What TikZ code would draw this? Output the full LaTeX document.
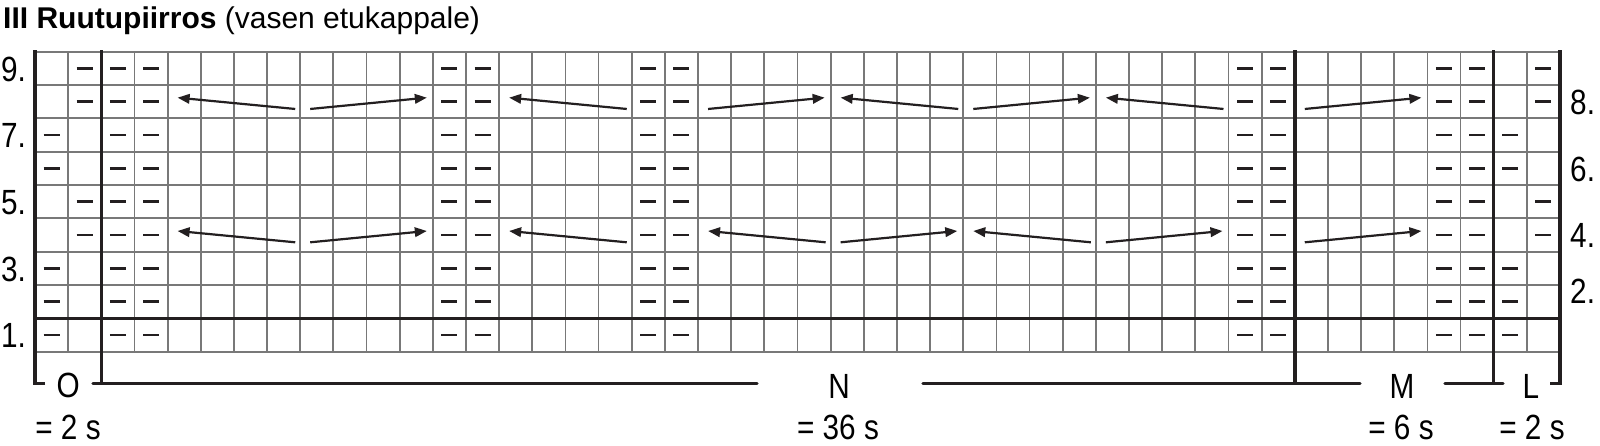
\documentclass[tikz,border=0pt]{standalone}
\usepackage{fontspec}
\setmainfont{Liberation Sans}
\newfontfamily\lblfont[FakeStretch=0.85]{Liberation Sans}
\usetikzlibrary{arrows.meta}
\definecolor{gridgray}{RGB}{120,120,120}
\definecolor{inkblack}{RGB}{35,31,32}
\newcommand\cw{33.1522}
\newcommand\purlcell[2]{\draw[purlmark] ({35+(#1-0.5)*\cw-8},{51.667+(9.5-#2)*33.3333}) -- ++(16,0);}
\newcommand\knitL[3]{\draw[knitarrow] ({35+(#2)*\cw-5},{51.667+(9.5-#3)*33.3333+7.3}) -- ({35+(#1-1)*\cw+10},{51.667+(9.5-#3)*33.3333-4});}
\newcommand\knitR[3]{\draw[knitarrow] ({35+(#1-1)*\cw+10},{51.667+(9.5-#3)*33.3333+7.3}) -- ({35+(#2)*\cw-6},{51.667+(9.5-#3)*33.3333-4});}
\begin{document}
\begin{tikzpicture}[x=1pt,y=-1pt,
  gridline/.style={draw=gridgray, line width=1.8pt},
  rule/.style={draw=inkblack, line width=3.4pt},
  bracketline/.style={draw=inkblack, line width=3.4pt, line cap=round},
  purlmark/.style={draw=inkblack, line width=2.6pt},
  knitarrow/.style={draw=inkblack, line width=2.2pt, -{Triangle[length=12pt,width=9.5pt]}},
  title/.style={anchor=base west, inner sep=0pt, font=\fontsize{30}{36}\selectfont},
  rownum/.style={anchor=base west, inner sep=0pt, font=\lblfont\fontsize{35}{40}\selectfont},
  seclabel/.style={anchor=base, inner sep=0pt, font=\lblfont\fontsize{35}{40}\selectfont}
]
\useasboundingbox (0,0) rectangle (1600,445);
% grid
\foreach \k in {0,...,46} \draw[gridline] ({35+\k*\cw},51.667) -- ({35+\k*\cw},351.667);
\foreach \j in {0,...,9} \draw[gridline] (35,{51.667+\j*33.3333}) -- (1560,{51.667+\j*33.3333});
% purl marks
\foreach \c in {3,4,13,14,19,20,37,38,43,44} {\foreach \r in {1,...,9} {\purlcell{\c}{\r}}}
\foreach \c in {1,45} {\foreach \r in {1,2,3,6,7} {\purlcell{\c}{\r}}}
\foreach \c in {2,46} {\foreach \r in {4,5,8,9} {\purlcell{\c}{\r}}}
% arrows row 8
\knitL{5}{8}{8} \knitR{9}{12}{8} \knitL{15}{18}{8} \knitR{21}{24}{8}
\knitL{25}{28}{8} \knitR{29}{32}{8} \knitL{33}{36}{8} \knitR{39}{42}{8}
% arrows row 4
\knitL{5}{8}{4} \knitR{9}{12}{4} \knitL{15}{18}{4} \knitL{21}{24}{4}
\knitR{25}{28}{4} \knitL{29}{32}{4} \knitR{33}{36}{4} \knitR{39}{42}{4}
% thick rules
\draw[rule] (35,318.333) -- (1560,318.333);
\foreach \k in {2,38,44} \draw[rule] ({35+\k*\cw},50) -- ({35+\k*\cw},383.3);
\draw[rule] (45,383.3) -- (35,383.3) -- (35,50);
\draw[rule] (1550,383.3) -- (1560,383.3) -- (1560,50);
\draw[bracketline] (93,383.3) -- (757,383.3);
\draw[bracketline] (923,383.3) -- (1360,383.3);
\draw[bracketline] (1445,383.3) -- (1503,383.3);
% title
\node[title] (ttl) at (3,28.5) {\textbf{III Ruutupiirros} (vasen etukappale)};
% row numbers
\node[rownum] (r9) at (1,81.2) {9.};
\node[rownum] (r7) at (1,147.9) {7.};
\node[rownum] (r5) at (1,214.5) {5.};
\node[rownum] (r3) at (1,281.2) {3.};
\node[rownum] (r1) at (1,347.9) {1.};
\node[rownum] (r8) at (1570,114.5) {8.};
\node[rownum] (r6) at (1570,181.2) {6.};
\node[rownum] (r4) at (1570,247.9) {4.};
\node[rownum] (r2) at (1570,303.5) {2.};
% section labels
\node[seclabel] (lO) at (68.3,397.5) {O};
\node[seclabel] (lN) at (839,398) {N};
\node[seclabel] (lM) at (1402,398) {M};
\node[seclabel] (lL) at (1531,398) {L};
\node[seclabel] (cO) at (68,439.5) {= 2 s};
\node[seclabel] (cN) at (838,439.5) {= 36 s};
\node[seclabel] (cM) at (1401,439.5) {= 6 s};
\node[seclabel] (cL) at (1532,439.5) {= 2 s};
\end{tikzpicture}
\end{document}
